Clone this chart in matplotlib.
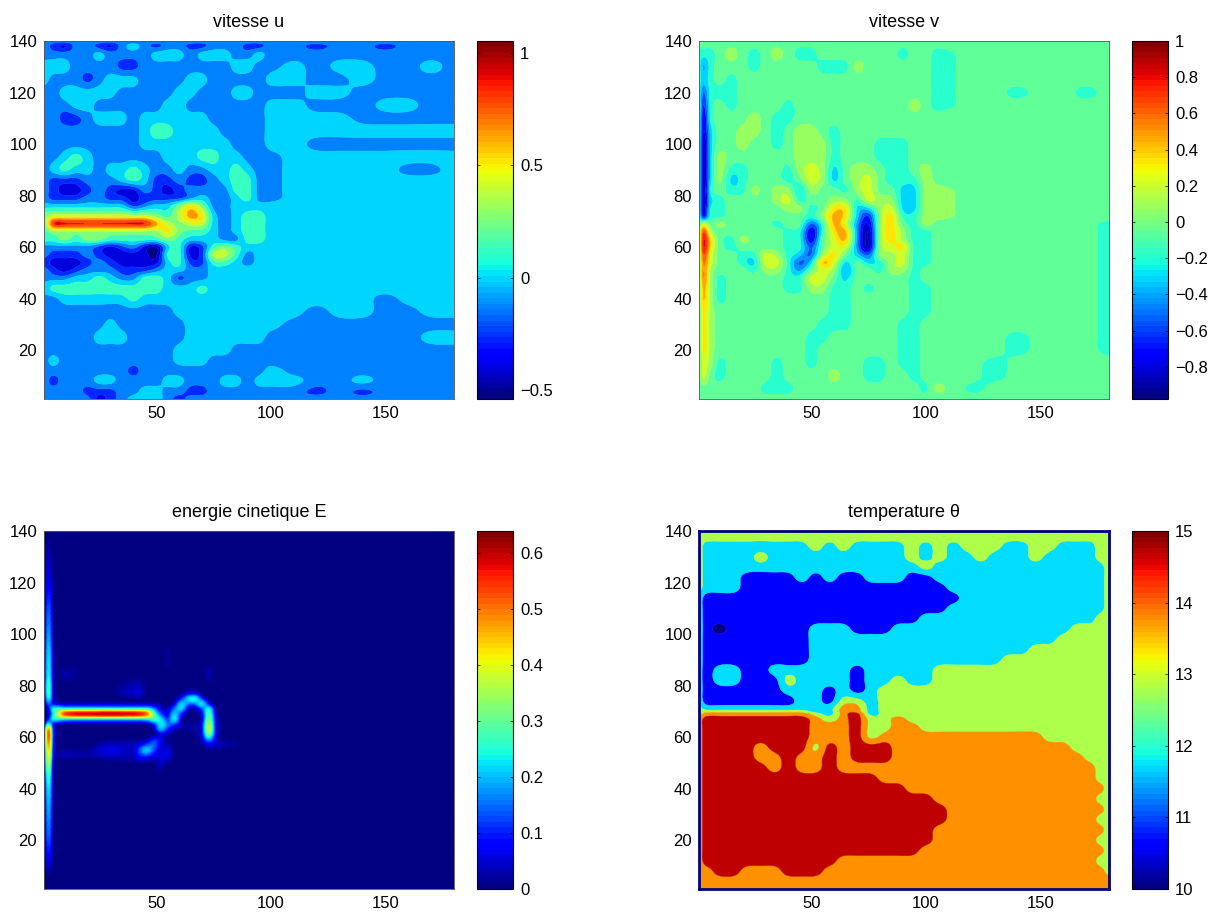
import numpy as np
import matplotlib
matplotlib.use("Agg")
import matplotlib.pyplot as plt

plt.rcParams['font.family'] = ['Liberation Sans', 'DejaVu Sans']

# vitesse u, contour band index per node (0 = lowest band, 11 = highest)
u_x = [1,5,10,15,20,25,30,35,40,45,50,55,60,65,70,75,80,85,90,95,100,110,120,130,140,150,160,170,180]
u_y = [140,138,135,130,125,120,115,110,105,100,95,90,86,82,79,76,72,69,66,63,60,57,54,51,48,44,40,35,30,25,20,16,12,8,4,1]
u_bands = [
[3,3,3,3,3, 3,3,3,3,3, 3,3,3,3,3, 3,3,3,3,3, 3,3,3,3,3, 3,3,3,3],
[3,2,1,3,3, 2,1,3,4,3, 2,3,3,2,2, 3,3,3,2,2, 3,3,2,3,3, 2,3,3,3],
[3,3,3,3,3, 4,3,3,3,3, 4,4,4,3,4, 4,4,3,3,4, 3,3,3,3,3, 3,3,3,3],
[4,4,4,3,3, 3,3,2,2,3, 3,3,3,3,3, 3,3,4,4,3, 3,4,3,4,4, 3,3,4,3],
[4,3,3,3,2, 3,4,4,4,3, 3,3,3,4,4, 3,3,3,3,3, 4,4,3,3,4, 3,3,3,3],
[3,3,4,4,4, 4,4,3,3,3, 3,3,4,4,3, 3,3,4,4,3, 3,3,4,4,3, 3,3,3,3],
[3,3,3,4,4, 3,3,3,3,3, 3,4,4,3,3, 3,3,3,3,3, 4,4,3,3,3, 4,4,3,3],
[3,3,2,2,3, 4,4,4,3,4, 4,4,4,4,4, 3,3,3,3,3, 4,4,4,4,3, 3,3,3,3],
[3,3,3,3,3, 3,3,3,3,4, 5,5,4,4,4, 4,3,3,3,3, 4,4,4,4,4, 4,4,4,4],
[3,3,3,3,3, 3,3,3,3,4, 4,4,4,4,4, 4,4,3,3,3, 4,4,3,3,3, 3,3,3,3],
[3,3,4,5,4, 3,3,3,3,3, 3,4,4,4,5, 5,4,4,3,3, 3,4,4,4,4, 4,4,4,4],
[3,4,5,4,4, 3,4,4,5,4, 3,3,4,3,3, 4,4,5,4,3, 3,4,4,4,4, 4,3,3,4],
[3,2,2,2,3, 3,3,4,5,4, 2,2,3,2,2, 3,4,5,5,3, 3,4,4,4,4, 4,4,4,4],
[3,2,1,1,2, 3,2,1,1,3, 2,1,2,3,3, 3,3,5,5,3, 3,4,4,4,4, 4,4,4,4],
[3,2,2,2,3, 3,2,2,1,2, 2,2,2,3,4, 3,3,4,5,3, 3,4,4,4,4, 4,4,4,4],
[4,4,4,4,4, 4,4,4,2,3, 4,4,6,8,6, 3,3,4,4,4, 4,4,4,4,4, 4,4,4,4],
[6,7,7,7,7, 7,7,7,7,7, 6,5,7,9,8, 4,3,4,5,5, 4,4,4,4,4, 4,4,4,4],
[5,11,11,11,11, 11,11,11,11,11, 9,7,6,7,7, 4,3,4,5,5, 4,4,4,4,4, 4,4,4,4],
[5,6,6,6,6, 6,6,6,6,6, 6,8,6,5,5, 4,3,4,5,5, 4,4,4,4,4, 4,4,4,4],
[5,5,6,5,6, 6,5,5,5,5, 5,6,5,4,4, 4,3,3,5,5, 4,4,4,4,4, 4,4,4,4],
[3,3,3,3,3, 2,1,2,3,1, 0,4,5,1,2, 5,6,5,4,4, 4,4,4,4,4, 4,4,4,4],
[3,2,2,2,3, 2,1,1,1,1, 0,5,5,1,2, 7,7,5,3,4, 4,4,4,4,4, 4,4,4,4],
[2,1,1,1,2, 3,2,1,1,1, 1,4,5,2,2, 5,5,4,3,4, 4,4,4,4,4, 4,4,4,4],
[3,2,1,2,3, 3,3,2,2,2, 3,4,4,3,3, 4,4,4,4,4, 4,4,4,4,4, 4,4,4,4],
[3,3,3,4,4, 5,4,3,3,5, 5,4,2,3,3, 4,4,4,4,4, 4,4,4,4,4, 4,4,4,4],
[4,5,5,5,5, 5,5,5,5,5, 5,4,4,4,5, 4,4,4,4,4, 4,4,4,4,4, 4,4,4,4],
[3,3,4,4,4, 4,4,4,5,4, 4,4,4,4,4, 4,4,4,4,4, 4,4,4,4,4, 3,4,4,4],
[3,3,3,3,3, 3,3,3,3,3, 3,3,4,4,4, 4,4,4,4,4, 4,4,3,4,4, 3,3,4,4],
[3,3,3,3,3, 3,4,3,3,3, 3,3,3,4,4, 4,4,4,4,4, 4,3,3,3,3, 3,3,3,3],
[3,3,3,3,3, 4,4,4,3,3, 3,3,3,4,4, 4,4,4,4,4, 3,3,3,3,3, 3,3,4,4],
[3,3,3,3,3, 3,3,3,3,3, 3,3,4,4,4, 4,4,3,3,3, 3,3,3,3,3, 3,3,3,3],
[3,4,3,3,3, 3,3,3,3,3, 3,3,4,4,4, 3,3,3,3,3, 3,3,3,3,3, 3,3,3,3],
[3,3,3,3,3, 3,3,3,2,3, 3,3,3,3,3, 3,3,3,3,3, 4,3,3,3,3, 3,3,3,3],
[3,2,3,3,3, 4,4,3,3,3, 3,4,4,3,3, 3,4,4,3,4, 4,4,3,3,4, 3,3,3,3],
[3,3,3,3,2, 2,2,3,3,4, 4,3,3,2,2, 3,3,3,3,3, 3,3,2,3,2, 3,3,3,3],
[3,3,3,3,3, 1,2,3,4,4, 4,3,2,3,3, 3,3,3,3,3, 3,3,3,3,3, 3,3,3,3],
]
u_range = (-0.54, 1.053)
u_ticks = [-0.5, 0, 0.5, 1]

# vitesse v, 15 bands, 7 is the green background
v_x = [1,3,6,10,15,20,25,30,35,40,45,50,55,60,65,70,75,80,85,90,95,100,105,120,130,140,150,160,170,180]
v_y = [140,135,130,125,120,115,110,105,100,95,90,86,82,78,75,72,69,66,63,60,57,54,51,48,44,40,35,30,25,20,15,10,5,1]
v_bands = [
[7,7,7,7,7, 7,7,7,7,7, 7,7,7,7,7, 7,7,7,7,7, 7,7,7,7,7, 7,7,7,7,7],
[6,6,6,7,8, 7,6,7,8,7, 6,6,7,7,7, 7,7,7,7,6, 7,7,6,7,7, 7,7,7,7,7],
[6,4,6,7,7, 7,6,7,7,7, 7,7,6,6,6, 8,7,7,7,7, 7,7,6,7,7, 7,7,7,7,7],
[6,5,6,7,6, 7,7,7,7,7, 7,7,7,7,7, 7,7,7,7,7, 7,7,6,7,7, 7,7,7,7,7],
[6,3,6,6,6, 7,7,7,7,7, 7,7,7,7,7, 7,7,7,7,7, 7,7,6,7,7, 6,7,7,6,7],
[6,2,6,7,6, 7,7,7,7,6, 7,7,7,7,7, 7,7,7,7,7, 8,7,6,7,7, 7,7,7,7,7],
[6,1,6,7,7, 7,8,7,6,6, 7,7,7,7,7, 7,7,7,7,7, 7,7,7,7,7, 7,7,7,7,7],
[6,1,5,7,7, 8,8,7,6,7, 8,8,7,6,7, 7,7,7,7,7, 7,7,7,7,7, 7,7,7,7,7],
[6,0,5,7,7, 8,7,7,6,7, 8,8,8,6,7, 7,7,6,6,6, 7,7,7,7,7, 7,7,7,7,7],
[6,0,5,8,7, 7,7,7,7,7, 8,8,8,6,7, 7,7,6,6,6, 7,7,7,7,7, 7,7,7,7,7],
[6,0,5,8,6, 6,7,7,7,6, 8,9,8,5,7, 8,8,7,6,6, 7,8,7,7,7, 7,7,7,7,7],
[6,0,5,8,5, 6,7,7,7,6, 7,9,8,5,7, 8,9,7,6,6, 6,8,7,7,7, 7,7,7,7,7],
[6,0,6,7,6, 6,8,7,8,8, 5,8,7,7,6, 8,9,7,7,5, 5,8,8,7,7, 7,7,7,7,7],
[6,0,5,6,7, 7,7,7,8,9, 6,7,7,8,8, 6,9,8,8,5, 5,8,8,7,7, 7,7,7,7,7],
[6,0,6,6,7, 7,7,7,7,8, 8,6,7,10,10, 5,5,8,9,5, 5,8,8,7,7, 7,7,7,7,7],
[6,1,6,6,7, 7,7,7,7,7, 7,6,8,11,10, 5,2,8,10,6, 6,8,8,7,7, 7,7,7,7,7],
[7,9,7,8,7, 7,7,7,6,7, 7,3,6,11,9, 4,1,8,10,7, 6,8,7,7,7, 7,7,7,7,6],
[7,13,8,7,7, 7,7,7,7,6, 6,1,6,10,11, 4,0,8,10,8, 6,6,7,7,7, 7,7,7,7,6],
[7,14,10,7,6, 8,7,7,7,6, 6,1,7,9,11, 4,0,8,10,8, 6,6,7,7,7, 7,7,7,7,6],
[7,14,10,7,6, 7,7,7,7,6, 6,3,7,9,9, 4,0,8,9,10, 6,6,7,7,7, 7,7,7,7,6],
[7,13,9,7,7, 6,6,9,8,6, 5,3,8,10,7, 5,3,8,8,9, 6,6,7,7,7, 7,7,7,7,6],
[7,12,9,7,7, 6,5,9,9,6, 3,5,11,9,5, 7,5,6,8,9, 6,6,7,7,7, 7,7,7,7,6],
[7,12,8,7,7, 7,6,8,8,6, 4,7,9,8,4, 7,7,6,8,8, 6,7,7,7,7, 7,7,7,7,6],
[7,12,8,6,7, 7,7,7,7,6, 6,9,9,7,5, 7,7,7,7,7, 6,7,7,7,7, 7,7,7,7,6],
[7,11,8,6,7, 7,7,7,7,6, 6,8,8,6,6, 7,6,7,7,7, 6,6,7,7,7, 7,7,7,7,6],
[7,11,8,6,7, 7,7,7,7,7, 7,7,7,6,6, 7,7,7,7,7, 6,6,7,7,7, 7,7,7,7,6],
[7,10,8,7,7, 7,7,7,7,7, 7,7,7,6,6, 7,7,7,7,7, 6,6,7,7,7, 7,7,7,7,6],
[7,10,8,7,7, 7,7,7,7,7, 7,7,6,6,6, 7,7,7,7,6, 6,7,7,7,7, 7,7,7,7,6],
[7,10,8,7,7, 7,7,7,7,7, 7,6,6,7,7, 7,7,7,7,6, 6,7,7,7,7, 6,7,7,7,6],
[7,10,8,7,7, 7,7,7,7,7, 7,6,7,7,7, 7,7,7,7,6, 6,7,7,7,7, 6,7,7,7,6],
[7,9,8,6,7, 7,7,7,6,7, 7,6,7,7,7, 7,6,6,7,6, 6,7,7,7,6, 7,7,7,7,7],
[7,9,7,6,7, 7,7,7,6,7, 7,7,7,8,7, 7,6,6,7,7, 6,7,7,7,6, 7,7,7,7,7],
[7,7,7,7,7, 7,7,6,6,6, 7,7,7,7,7, 7,7,7,7,7, 7,6,8,6,7, 7,7,7,7,7],
[7,7,7,7,7, 7,7,7,7,7, 7,7,7,7,7, 7,7,7,7,7, 7,7,7,7,7, 7,7,7,7,7],
]
v_range = (-0.978, 1.0)
v_ticks = [-0.8, -0.6, -0.4, -0.2, 0, 0.2, 0.4, 0.6, 0.8, 1]

# energie cinetique, values in hundredths
e_x = [1,3,5,10,20,30,40,43,46,49,52,55,58,61,64,67,70,73,76,80,90,180]
e_y = [140,130,120,110,100,90,84,80,77,75,73,71,69,67,65,63,61,59,57,55,53,51,49,45,40,30,20,10,5,1]
e_vals = [
[0,0,0,0,0, 0,0,0,0,0, 0,0,0,0,0, 0,0,0,0,0, 0,0],
[0,4,0,0,0, 0,0,0,0,0, 0,0,0,0,0, 0,0,0,0,0, 0,0],
[0,8,0,0,0, 0,0,0,0,0, 0,0,0,0,0, 0,0,0,0,0, 0,0],
[0,15,0,0,0, 0,0,0,0,0, 0,0,0,0,0, 0,0,0,0,0, 0,0],
[0,20,0,0,0, 0,0,0,0,0, 0,0,0,0,0, 0,0,0,0,0, 0,0],
[0,25,1,0,0, 0,0,0,0,0, 0,2,0,0,0, 0,0,0,0,0, 0,0],
[0,26,1,3,0, 0,0,0,0,0, 0,0,0,0,0, 0,0,3,0,0, 0,0],
[0,30,2,0,0, 0,3,3,0,0, 0,0,0,0,0, 0,0,0,0,0, 0,0],
[0,30,2,0,0, 0,5,5,0,0, 0,0,0,0,5, 5,0,0,0,0, 0,0],
[0,25,3,0,0, 0,1,1,0,0, 0,0,0,8,22, 25,8,0,0,0, 0,0],
[0,15,5,3,3, 3,3,3,3,2, 1,0,4,22,15, 15,25,5,0,0, 0,0],
[0,6,25,22,22, 22,22,22,22,15, 5,2,15,22,3, 2,12,25,1,0, 0,0],
[0,4,20,58,62, 64,62,60,52,28, 12,5,22,8,1, 1,5,30,3,0, 0,0],
[0,8,25,20,20, 20,20,20,22,28, 22,10,25,3,0, 0,3,33,4,0, 0,0],
[0,25,5,1,1, 1,1,1,1,8, 24,15,12,2,2, 2,6,38,5,0, 0,0],
[0,52,5,0,0, 0,0,0,0,2, 20,8,3,2,2, 2,6,40,5,0, 0,0],
[0,58,5,0,0, 0,0,0,0,0, 4,3,0,0,0, 1,6,32,5,0, 0,0],
[0,56,4,0,0, 1,1,1,2,10, 8,0,0,0,0, 0,3,18,3,1, 0,0],
[0,52,4,1,0, 4,3,6,12,15, 5,3,0,0,0, 0,1,6,4,3, 0,0],
[0,48,3,2,1, 7,3,14,22,12, 4,6,0,0,0, 0,0,1,1,0, 0,0],
[0,45,4,4,2, 5,3,10,12,6, 6,6,0,0,0, 0,0,0,0,0, 0,0],
[0,42,1,1,0, 1,2,4,3,2, 5,3,0,0,0, 0,0,0,0,0, 0,0],
[0,38,0,0,0, 0,0,0,0,0, 3,0,0,0,0, 0,0,0,0,0, 0,0],
[0,30,0,0,0, 0,0,0,0,0, 0,0,0,0,0, 0,0,0,0,0, 0,0],
[0,25,0,0,0, 0,0,0,0,0, 0,0,0,0,0, 0,0,0,0,0, 0,0],
[0,20,0,0,0, 0,0,0,0,0, 0,0,0,0,0, 0,0,0,0,0, 0,0],
[0,15,0,0,0, 0,0,0,0,0, 0,0,0,0,0, 0,0,0,0,0, 0,0],
[0,5,0,0,0, 0,0,0,0,0, 0,0,0,0,0, 0,0,0,0,0, 0,0],
[0,0,0,0,0, 0,0,0,0,0, 0,0,0,0,0, 0,0,0,0,0, 0,0],
[0,0,0,0,0, 0,0,0,0,0, 0,0,0,0,0, 0,0,0,0,0, 0,0],
]
e_range = (0, 0.64)
e_ticks = [0, 0.1, 0.2, 0.3, 0.4, 0.5, 0.6]

# temperature, 6 bands: navy, blue, cyan, lime, orange, dark red
t_x = [1,4,10,16,22,28,34,40,46,52,58,64,70,76,82,88,94,100,106,112,118,124,130,136,142,148,154,160,166,172,176,180]
t_y = [140,138,134,130,126,122,118,114,110,106,102,98,94,90,86,82,78,74,71,70,69,67,64,60,56,52,48,44,40,36,32,28,24,20,16,12,8,4,1]
t_bands = [
[3,3,3,3,3,3,3,3, 3,3,3,3,3,3,3,3, 3,3,3,3,3,3,3,3, 3,3,3,3,3,3,3,3],
[3,3,3,3,3,3,3,3, 3,3,3,3,3,3,3,3, 3,3,3,3,3,3,3,3, 3,3,3,3,3,3,3,3],
[3,2,2,2,2,2,2,2, 2,3,2,3,2,2,2,2, 3,2,3,2,3,3,3,2, 2,3,3,2,2,2,3,3],
[3,2,2,2,2,3,2,2, 2,2,2,2,2,2,2,2, 3,2,3,2,2,3,2,2, 2,3,2,2,2,2,3,3],
[3,2,2,2,2,2,2,2, 2,2,2,2,2,2,2,2, 2,3,2,2,2,2,2,2, 2,2,2,2,2,2,2,3],
[3,2,2,2,1,1,1,1, 2,1,2,1,1,2,2,2, 1,1,2,2,2,2,2,2, 2,2,2,2,2,2,2,3],
[3,2,2,2,1,1,1,1, 1,1,1,1,1,1,1,1, 1,1,1,2,2,2,2,2, 2,2,2,2,2,2,2,3],
[2,1,1,1,1,1,1,1, 1,1,1,1,1,1,1,1, 1,1,1,1,2,2,2,2, 2,2,2,2,2,2,2,3],
[2,1,1,1,1,1,1,1, 1,1,1,1,1,1,1,1, 1,1,1,2,2,2,2,2, 2,2,2,2,2,2,2,3],
[2,1,1,1,1,1,1,1, 1,1,1,1,1,1,1,1, 1,2,2,2,2,2,2,2, 2,2,2,2,2,2,3,3],
[2,1,0,1,1,1,1,1, 1,2,2,2,1,1,1,2, 2,2,2,2,2,2,2,2, 2,2,2,2,3,3,3,3],
[2,1,1,1,1,1,1,1, 1,2,2,2,2,2,2,2, 2,2,2,2,2,2,2,2, 2,2,2,3,3,3,3,3],
[2,1,1,1,1,1,1,1, 1,2,2,2,2,2,2,2, 2,2,2,2,2,2,2,2, 2,3,3,3,3,3,3,3],
[2,1,1,1,1,1,1,1, 1,2,2,2,2,2,2,2, 2,2,2,2,2,2,2,3, 3,3,3,3,3,3,3,3],
[2,1,2,2,1,1,2,2, 2,2,2,2,1,2,2,2, 2,2,3,3,3,3,3,3, 3,3,3,3,3,3,3,3],
[2,1,2,2,1,1,1,3, 2,2,2,2,1,2,2,3, 2,2,3,3,3,3,3,3, 3,3,3,3,3,3,3,3],
[2,1,1,1,1,1,1,2, 2,2,1,2,1,2,3,3, 3,3,3,3,3,3,3,3, 3,3,3,3,3,3,3,3],
[2,1,1,1,1,1,1,1, 2,2,1,3,3,2,3,3, 3,3,3,3,3,3,3,3, 3,3,3,3,3,3,3,3],
[3,2,2,2,2,2,2,2, 2,2,2,4,4,2,3,3, 3,3,3,3,3,3,3,3, 3,3,3,3,3,3,3,3],
[3,3,3,3,3,3,3,3, 3,2,2,4,4,2,3,3, 3,3,3,3,3,3,3,3, 3,3,3,3,3,3,3,3],
[3,4,4,4,4,4,4,4, 4,3,2,4,5,2,3,3, 3,3,3,3,3,3,3,3, 3,3,3,3,3,3,3,3],
[4,5,5,5,5,5,5,5, 5,4,3,4,5,3,3,4, 3,3,3,3,3,3,3,3, 3,3,3,3,3,3,3,3],
[4,5,5,5,5,5,5,5, 5,4,4,4,5,3,3,4, 4,3,3,3,3,3,3,3, 3,3,3,3,3,3,3,3],
[4,5,5,5,5,5,5,5, 5,4,4,4,5,3,4,4, 4,4,4,4,4,4,4,4, 4,4,3,3,3,3,3,3],
[4,5,5,5,5,4,5,5, 5,3,5,4,5,5,5,4, 4,4,4,4,4,4,4,4, 4,4,4,4,3,3,3,3],
[4,5,5,5,5,4,4,5, 4,4,5,4,5,5,5,4, 4,4,4,4,4,4,4,4, 4,4,4,4,4,3,3,3],
[4,5,5,5,5,5,4,5, 4,4,5,4,4,4,4,4, 4,4,4,4,4,4,4,4, 4,4,4,4,4,4,3,3],
[4,5,5,5,5,5,5,5, 5,5,5,5,5,5,4,4, 4,4,4,4,4,4,4,4, 4,4,4,4,4,4,3,3],
[4,5,5,5,5,5,5,5, 5,5,5,5,5,5,5,5, 4,4,4,4,4,4,4,4, 4,4,4,4,4,4,4,3],
[4,5,5,5,5,5,5,5, 5,5,5,5,5,5,5,5, 5,5,4,4,4,4,4,4, 4,4,4,4,4,4,3,3],
[4,5,5,5,5,5,5,5, 5,5,5,5,5,5,5,5, 5,5,5,4,4,4,4,4, 4,4,4,4,4,4,4,3],
[4,5,5,5,5,5,5,5, 5,5,5,5,5,5,5,5, 5,5,5,4,4,4,4,4, 4,4,4,4,4,4,3,3],
[4,5,5,5,5,5,5,5, 5,5,5,5,5,5,5,5, 5,5,4,4,4,4,4,4, 4,4,4,4,4,4,4,3],
[4,5,5,5,5,5,5,5, 5,5,5,5,5,5,5,5, 5,5,4,4,4,4,4,4, 4,4,4,4,4,4,3,3],
[4,5,5,5,5,5,5,5, 5,5,5,5,5,5,5,5, 5,4,4,4,4,4,4,4, 4,4,4,4,4,4,4,3],
[4,5,5,5,5,5,5,5, 5,5,5,4,4,4,4,4, 4,4,4,4,4,4,4,4, 4,4,4,4,4,4,3,3],
[4,4,5,5,4,4,4,5, 5,5,4,4,4,4,4,4, 4,4,4,4,4,4,4,4, 4,4,4,4,4,4,4,3],
[4,4,4,4,4,4,4,4, 4,4,4,4,4,4,4,4, 4,4,4,4,4,4,4,4, 4,4,4,4,4,4,4,4],
[4,4,4,4,4,4,4,4, 4,4,4,4,4,4,4,4, 4,4,4,4,4,4,4,4, 4,4,4,4,4,4,4,4],
]
t_range = (10, 15)
t_ticks = [10, 11, 12, 13, 14, 15]
t_fracs = [0.0, 0.12, 0.34, 0.56, 0.755, 0.945]

W, H = 1213, 913
SUB = 8  # fine cells per grid cell
jet = plt.colormaps['jet']


def upsample(a):
    # Catmull-Rom along the first axis, works in grid index space
    n = a.shape[0]
    p = np.concatenate([a[:1], a, a[-1:]])
    f = np.arange((n - 1) * SUB + 1) / SUB
    i = np.minimum(f.astype(int), n - 2)
    t = (f - i).reshape(-1, 1)
    p0, p1, p2, p3 = p[i], p[i + 1], p[i + 2], p[i + 3]
    return 0.5 * (2 * p1 + (p2 - p0) * t + (2 * p0 - 5 * p1 + 4 * p2 - p3) * t ** 2
                  + (-p0 + 3 * p1 - 3 * p2 + p3) * t ** 3)


def blur(a, sigma=0.25):
    # small gaussian along the first axis, sigma in grid cells
    r = int(3 * sigma * SUB)
    k = np.exp(-0.5 * (np.arange(-r, r + 1) / (sigma * SUB)) ** 2)
    k = k / k.sum()
    p = np.concatenate([np.repeat(a[:1], r, axis=0), a, np.repeat(a[-1:], r, axis=0)])
    return np.apply_along_axis(lambda c: np.convolve(c, k, mode='valid'), 0, p)


def smooth_field(xs, ys, z):
    # rows are typed top down
    xs = np.array(xs, dtype=float)
    ys = np.array(ys, dtype=float)[::-1]
    z = np.array(z, dtype=float)[::-1]
    f = blur(upsample(z))
    f = blur(upsample(f.T)).T
    xf = np.interp(np.arange((len(xs) - 1) * SUB + 1) / SUB, np.arange(len(xs)), xs)
    yf = np.interp(np.arange((len(ys) - 1) * SUB + 1) / SUB, np.arange(len(ys)), ys)
    return xf, yf, f


def panel(px, py, title, xs, ys, z, levels, colors, rng, ticks, edge='#555555', edge_w=0.6, seams=True):
    # px, py: left and top of the 410x358 image box in pixels
    ax = fig.add_axes([px / W, 1 - (py + 358) / H, 410 / W, 358 / H])
    xf, yf, zf = smooth_field(xs, ys, z)
    zf = np.clip(zf, levels[0], levels[-1])
    if seams:
        cs = ax.contourf(xf, yf, zf, levels=levels, colors=colors, antialiased=True)
        cs.set_edgecolor('face')
        cs.set_linewidth(0.3)
    else:
        ax.contourf(xf, yf, zf, levels=levels, colors=colors, antialiased=False)
    ax.set_xlim(1, 180)
    ax.set_ylim(1, 140)
    ax.set_xticks([50, 100, 150])
    ax.set_yticks([20, 40, 60, 80, 100, 120, 140])
    ax.tick_params(length=0, labelsize=12, pad=5)
    ax.set_title(title, fontsize=13, pad=10)
    for s in ax.spines.values():
        s.set_color(edge)
        s.set_linewidth(edge_w)
    cax = fig.add_axes([(px + 433) / W, 1 - (py + 358) / H, 36 / W, 358 / H])
    sm = plt.cm.ScalarMappable(norm=plt.Normalize(*rng), cmap=jet.resampled(64))
    cb = fig.colorbar(sm, cax=cax)
    cb.set_ticks(ticks)
    cb.set_ticklabels([f'{t:g}'.replace('-', '\u2212') for t in ticks])
    cb.ax.tick_params(labelsize=12, length=2, width=0.5, direction='in', pad=5, left=True, right=True)
    cb.outline.set_linewidth(0.8)
    return ax


fig = plt.figure(figsize=(W / 100, H / 100), dpi=100)

# bands are spaced evenly, a node sits at the middle of its band
u_lv = np.linspace(u_range[0], u_range[1], 13)
u_z = u_lv[0] + (np.array(u_bands) + 0.5) * (u_lv[1] - u_lv[0])
panel(44, 41, 'vitesse u', u_x, u_y, u_z, u_lv, [jet(i / 12) for i in range(12)], u_range, u_ticks)

v_lv = np.linspace(v_range[0], v_range[1], 16)
v_z = v_lv[0] + (np.array(v_bands) + 0.5) * (v_lv[1] - v_lv[0])
panel(699, 41, 'vitesse v', v_x, v_y, v_z, v_lv, [jet(i / 15) for i in range(15)], v_range, v_ticks)

e_lv = np.linspace(e_range[0], e_range[1], 65)
e_z = np.array(e_vals) / 100
panel(44, 531, 'energie cinetique E', e_x, e_y, e_z, e_lv, [jet(i / 63) for i in range(64)], e_range, e_ticks, seams=False)

t_lv = np.arange(9.5, 16.0, 1.0)
t_z = 10 + np.array(t_bands)
panel(699, 531, 'temperature \u03b8', t_x, t_y, t_z, t_lv, [jet(f) for f in t_fracs], t_range, t_ticks,
      edge='#000080', edge_w=2.0)

fig.savefig('out.png', dpi=100)
